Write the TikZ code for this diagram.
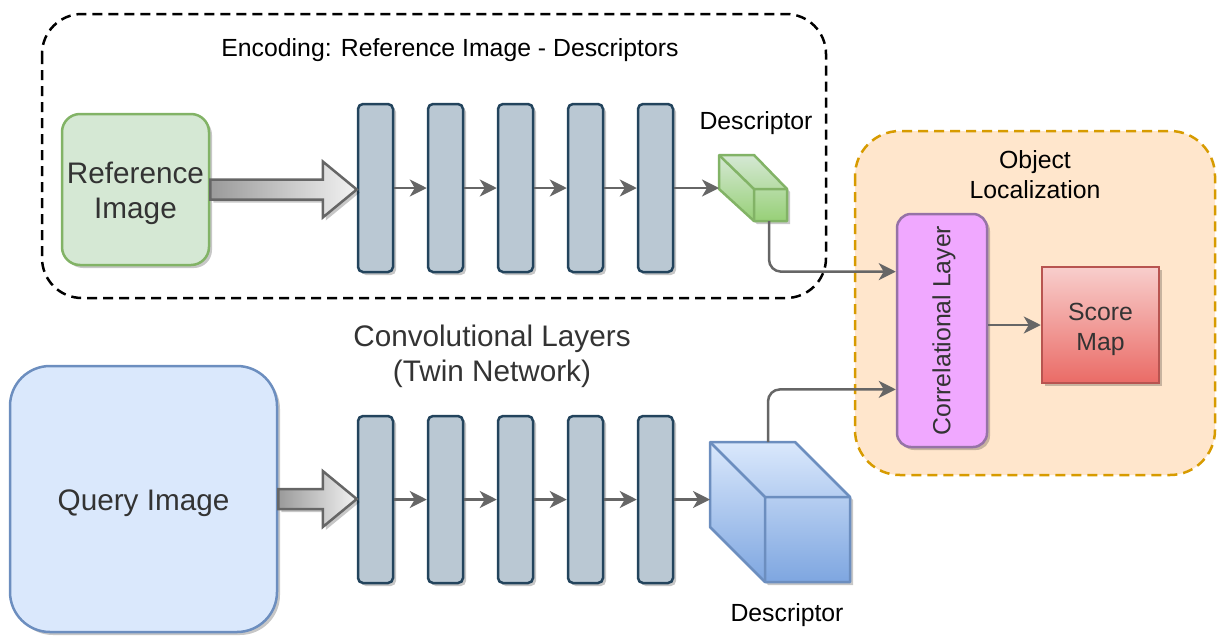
\documentclass[tikz,border=0pt]{standalone}
\usepackage{fontspec}
\setmainfont{Liberation Sans}
\usetikzlibrary{arrows.meta,calc,shadows}
\definecolor{textgray}{HTML}{333333}
\definecolor{flowgray}{HTML}{666666}
\definecolor{reffill}{HTML}{D5E8D4}
\definecolor{refline}{HTML}{82B366}
\definecolor{refdark}{HTML}{97D077}
\definecolor{queryfill}{HTML}{DAE8FC}
\definecolor{queryline}{HTML}{6C8EBF}
\definecolor{querydark}{HTML}{7EA6E0}
\definecolor{barfill}{HTML}{BAC8D3}
\definecolor{barline}{HTML}{23445D}
\definecolor{fatdark}{HTML}{9A9A9A}
\definecolor{fatlight}{HTML}{F2F2F2}
\definecolor{locfill}{HTML}{FFE6CC}
\definecolor{locline}{HTML}{D79B00}
\definecolor{corrfill}{HTML}{F0A8FF}
\definecolor{corrline}{HTML}{9673A6}
\definecolor{scoretop}{HTML}{F8CECC}
\definecolor{scorebottom}{HTML}{EA6B66}
\definecolor{scoreline}{HTML}{B85450}
\newcommand{\labelsize}{\fontsize{24.8}{30}\selectfont}
\newcommand{\headsize}{\fontsize{29.7}{35}\selectfont}
% block arrow from one anchor to another
\newcommand{\fatarrow}[2]{%
  \path[fatarrow] let \p1=(#1), \p2=(#2) in
    (\x1,\y1+10pt) -- (\x2-34pt,\y1+10pt) -- (\x2-34pt,\y1+28pt) -- (\x2,\y1)
    -- (\x2-34pt,\y1-28pt) -- (\x2-34pt,\y1-10pt) -- (\x1,\y1-10pt) -- cycle;}
\begin{document}
\begin{tikzpicture}[x=1pt,y=-1pt,
  shadowed/.style={drop shadow={shadow xshift=3pt,shadow yshift=-3pt,fill=black,opacity=0.22}},
  imgbox/.style={draw=#1,line width=2.5pt,shadowed,inner sep=0pt},
  convbar/.style={draw=barline,fill=barfill,line width=2.5pt,rounded corners=5pt,minimum width=35,shadowed,inner sep=0pt},
  flow/.style={draw=flowgray,line width=2.5pt,-{Stealth[length=17pt,width=17pt,inset=5pt]}},
  fatarrow/.style={draw=flowgray,line width=2.5pt,left color=fatdark,right color=fatlight,shadowed},
  cube/.style={draw=#1,line width=2.5pt,line join=round,shadowed},
  cubeedge/.style={draw=#1,line width=2.5pt,line join=round},
  label/.style={font=\labelsize,align=center},
  headlabel/.style={font=\headsize,align=center,text=textgray}]
\useasboundingbox (0,0) rectangle (1217,635);

% frames
\draw[draw=locline,fill=locfill,line width=2.5pt,dash pattern=on 10pt off 6pt,rounded corners=45pt] (855,131) rectangle (1215,475);
\draw[line width=2.5pt,dash pattern=on 10pt off 6pt,rounded corners=40pt] (42,14) rectangle (826,298);
\node[label] (enc) at (450,50) {Encoding: Reference Image - Descriptors};
\node[label] (loc) at (1035,175) {Object\\Localization};
\node[headlabel] (conv) at (492,356) {Convolutional Layers\\(Twin Network)};

% inputs
\node[imgbox=refline,fill=reffill,rounded corners=18pt,minimum width=147,minimum height=151] (ref) at (135.5,189.5) {};
\node[headlabel] (reftext) at ($(ref)+(0,4)$) {Reference\\Image};
\node[imgbox=queryline,fill=queryfill,rounded corners=40pt,minimum width=267,minimum height=266] (query) at (143.5,499) {};
\node[headlabel] (querytext) at ($(query)+(0,4)$) {Query Image};

% twin conv layers
\foreach \i in {1,...,5} {
  \node[convbar,minimum height=168] (t\i) at ({305.5+70*\i},188) {};
  \node[convbar,minimum height=167] (b\i) at ({305.5+70*\i},499.5) {};
}
\foreach \i [count=\j from 2] in {1,...,4} {
  \draw[flow] (t\i.east) -- (t\j.west);
  \draw[flow] (b\i.east) -- (b\j.west);
}
\fatarrow{ref.east}{t1.west}
\fatarrow{query.east}{b1.west}

% descriptors
\draw[cube=refline,top color=reffill,bottom color=refdark] (719,155) -- (754,155) -- (787,189) -- (787,221) -- (754,221) -- (719,189) -- cycle;
\draw[cubeedge=refline] (719,155) -- (754,189) -- (787,189) (754,189) -- (754,221);
\coordinate (gdin) at (719,189);
\coordinate (gdout) at (769,221);
\node[label] (gdlabel) at (756,123) {Descriptor};

\draw[cube=queryline,top color=queryfill,bottom color=querydark] (710,442) -- (795,442) -- (850,497) -- (850,582) -- (765,582) -- (710,527) -- cycle;
\draw[cubeedge=queryline] (710,442) -- (765,497) -- (850,497) (765,497) -- (765,582);
\coordinate (bdin) at (710,499);
\coordinate (bdout) at (768,442);
\node[label] (bdlabel) at (787,615) {Descriptor};

\draw[flow] (t5.east) -- (gdin |- t5.east);
\draw[flow] (b5.east) -- (bdin |- b5.east);

% localization
\node[draw=corrline,fill=corrfill,line width=2.5pt,rounded corners=14pt,minimum width=90,minimum height=233,shadowed,inner sep=0pt] (corr) at (942,330.5) {};
\node[rotate=90,font=\labelsize,text=textgray] (corrtext) at ($(corr)+(2,0)$) {Correlational Layer};
\node[draw=scoreline,top color=scoretop,bottom color=scorebottom,line width=2.5pt,minimum width=117,minimum height=116,shadowed,inner sep=0pt] (score) at (1100.5,325) {};
\node[label,text=textgray] (scoretext) at ($(score)+(0,4)$) {Score\\Map};

\draw[flow,rounded corners=12pt] (gdout) |- ($(corr.north west)!0.25!(corr.south west)$);
\draw[flow,rounded corners=12pt] (bdout) |- ($(corr.north west)!0.75!(corr.south west)$);
\draw[flow] (corr.east |- score.west) -- (score.west);
\end{tikzpicture}
\end{document}
